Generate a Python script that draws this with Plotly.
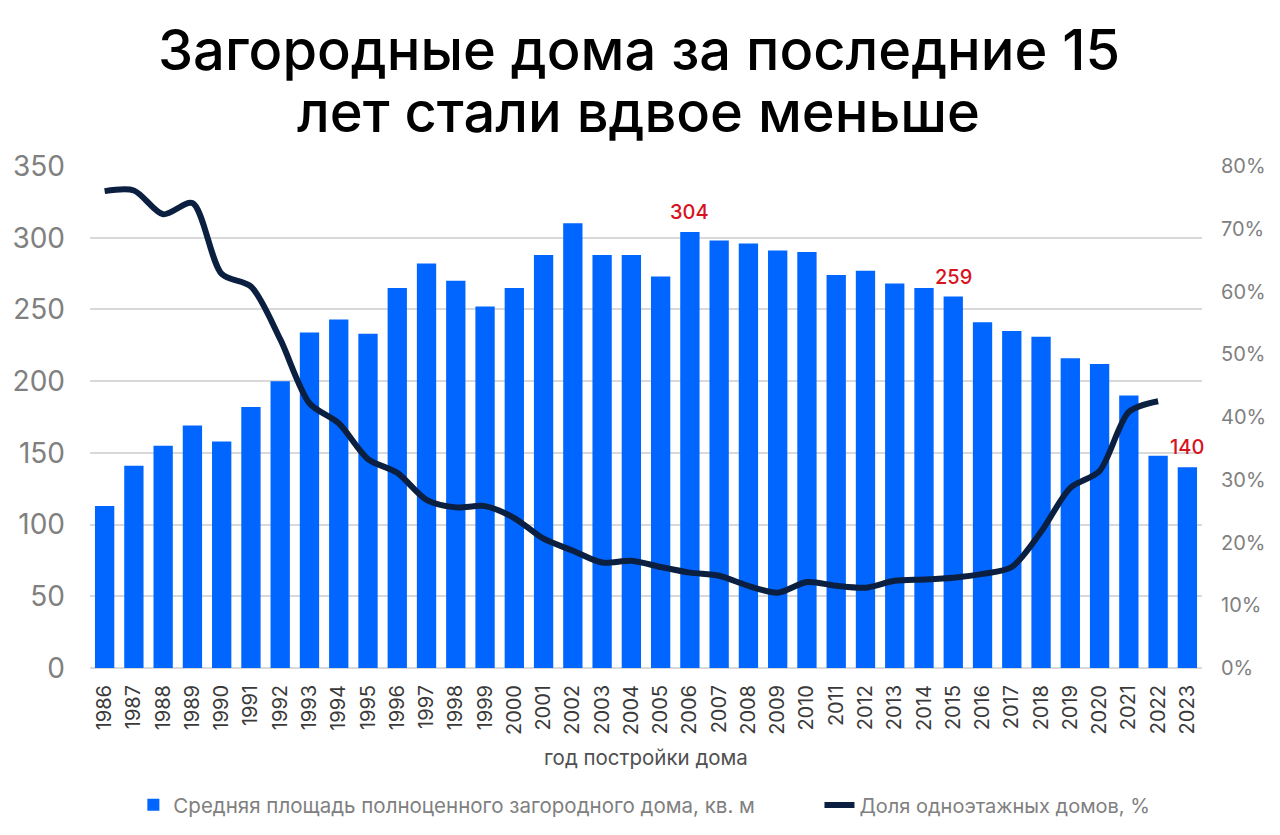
import plotly.graph_objects as go

# --- data ---
years = [str(y) for y in range(1986, 2024)]

avg_area = [113, 141, 155, 169, 158, 182, 200, 234, 243, 233,
            265, 282, 270, 252, 265, 288, 310, 288, 288, 273,
            304, 298, 296, 291, 290, 274, 277, 268, 265, 259,
            241, 235, 231, 216, 212, 190, 148, 140]

one_floor_share = [76.0, 76.1, 72.3, 74.1, 62.8, 60.8, 52.4, 42.2, 39.0, 33.3,
                   31.1, 26.8, 25.6, 25.8, 23.9, 20.6, 18.7, 16.8, 17.1, 16.1,
                   15.2, 14.7, 13.1, 12.0, 13.7, 13.1, 12.8, 13.9, 14.1, 14.4,
                   15.0, 16.1, 21.7, 28.7, 31.4, 40.8, 42.5, None]

labelled_years = ["2006", "2015", "2023"]

title_lines = ["Загородные дома за последние 15", "лет стали вдвое меньше"]
bar_name = "Средняя площадь полноценного загородного дома, кв. м"
line_name = "Доля одноэтажных домов, %"
x_title = "год постройки дома"

BLUE = "#0066ff"
NAVY = "#0b1f40"
RED = "#d7141e"
FONT = "Inter"

# page body adds 8px, so the figure is a bit smaller than the window
W, H = 1272, 827
L, T, PW, PH = 82, 158, 1112, 502

fig = go.Figure()

fig.add_trace(go.Bar(
    x=years, y=avg_area, name=bar_name,
    marker=dict(color=BLUE, line=dict(width=0)),
    legend="legend",
))

fig.add_trace(go.Scatter(
    x=years, y=one_floor_share, name=line_name, yaxis="y2",
    mode="lines", line=dict(color=NAVY, width=6, shape="spline", smoothing=0.8),
    legend="legend2",
))

# red value labels above selected bars (x given as category index)
for yr in labelled_years:
    i = years.index(yr)
    fig.add_annotation(x=i, y=avg_area[i], text=str(avg_area[i]), showarrow=False,
                       yshift=20, yanchor="middle",
                       font=dict(family=FONT, size=20, color=RED, weight=500))

fig.add_annotation(x=0.5, y=-0.179, xref="paper", yref="paper", text=x_title,
                   showarrow=False, yanchor="middle",
                   font=dict(family=FONT, size=20.5, color="#505050"))

# two-line title, one annotation per line
for line, ypx in zip(title_lines, [42, 104]):
    fig.add_annotation(x=0.4935, y=(T + PH - ypx) / PH, xref="paper", yref="paper",
                       xanchor="center", yanchor="middle", text=line, showarrow=False,
                       font=dict(family=FONT, size=56, color="#000000", weight=500))

fig.update_layout(
    width=W, height=H,
    margin=dict(l=L, r=W - L - PW, t=T, b=H - T - PH, autoexpand=False),
    paper_bgcolor="white", plot_bgcolor="white",
    font=dict(family=FONT),
    bargap=0.34,
    showlegend=True,
    legend=dict(orientation="h", x=0.039, y=-0.273, xanchor="left", yanchor="middle",
                font=dict(family=FONT, size=20.5, color="#808080")),
    legend2=dict(orientation="h", x=0.656, y=-0.273, xanchor="left", yanchor="middle",
                 font=dict(family=FONT, size=20, color="#808080")),
    xaxis=dict(type="category", range=[-0.5, len(years) - 0.5], tickangle=-90,
               showgrid=False, showline=False, ticks="", automargin=False,
               tickfont=dict(family=FONT, size=20, color="#3a3a3a"),
               ticklabelstandoff=12),
    yaxis=dict(range=[0, 350], dtick=50, showgrid=True, gridcolor="#d9d9d9", gridwidth=1.5,
               zeroline=True, zerolinecolor="#d9d9d9", zerolinewidth=1.5, showline=False,
               ticks="", automargin=False, tickfont=dict(family=FONT, size=28, color="#808080"),
               ticklabelstandoff=24),
    yaxis2=dict(range=[0, 80], dtick=10, overlaying="y", side="right", showgrid=False,
                zeroline=False, ticksuffix="%", ticks="", automargin=False,
                tickfont=dict(family=FONT, size=20, color="#808080"),
                ticklabelstandoff=18),
)

fig.write_html("out.html")
